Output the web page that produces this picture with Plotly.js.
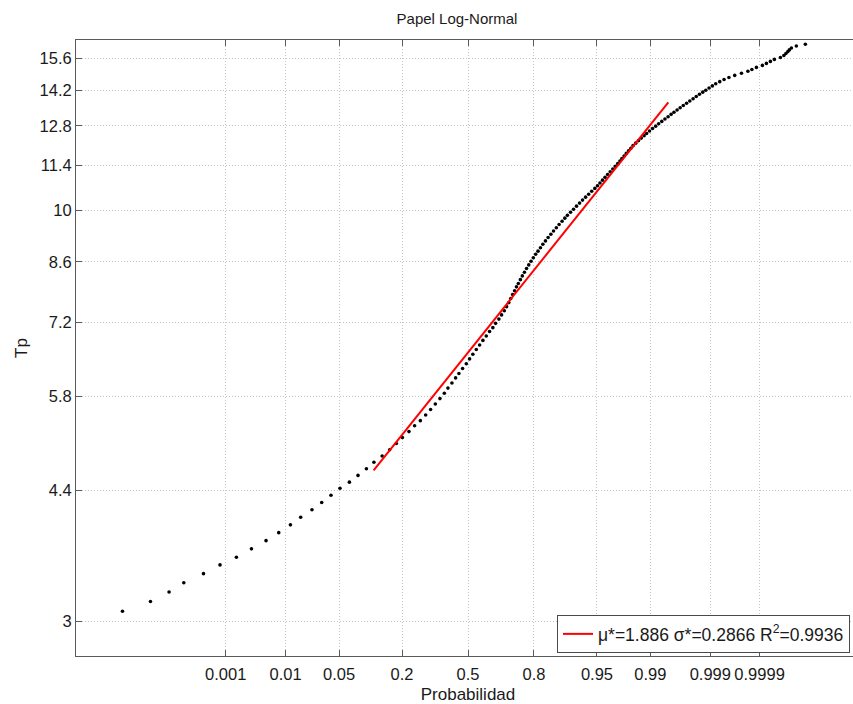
<!DOCTYPE html>
<html>
<head>
<meta charset="utf-8">
<script src="https://cdn.plot.ly/plotly-3.0.1.min.js"></script>
<style>
html,body{margin:0;padding:0;overflow:hidden;background:#fff;}
#chart{width:861px;height:704px;}
</style>
</head>
<body>
<div id="chart"></div>
<script>
// Empirical data: peak period values and their standard normal scores (probit of plotting position)
const tpValues = [3.09,3.18,3.27,3.36,3.45,3.54,3.62,3.71,3.80,3.89,3.98,4.07,4.16,4.25,4.34,4.43,4.51,4.60,4.69,4.78,
4.87,4.96,5.05,5.14,5.23,5.32,5.40,5.49,5.58,5.67,5.76,5.85,5.94,6.03,6.12,6.20,6.29,6.38,6.47,6.56,
6.65,6.74,6.83,6.92,7.01,7.09,7.18,7.27,7.36,7.45,7.54,7.63,7.72,7.81,7.90,7.99,8.07,8.16,8.25,8.34,
8.43,8.52,8.61,8.70,8.79,8.87,8.96,9.05,9.14,9.23,9.32,9.41,9.50,9.59,9.68,9.77,9.85,9.94,10.03,10.12,
10.21,10.30,10.39,10.48,10.57,10.66,10.74,10.83,10.92,11.01,11.10,11.19,11.28,11.37,11.46,11.55,11.63,11.72,11.81,11.90,
11.99,12.08,12.17,12.26,12.35,12.44,12.52,12.61,12.70,12.79,12.88,12.97,13.06,13.15,13.24,13.32,13.41,13.50,13.59,13.68,
13.77,13.86,13.95,14.04,14.13,14.21,14.30,14.39,14.48,14.57,14.66,14.75,14.84,14.93,15.02,15.10,15.19,15.28,15.37,15.46,
15.55,15.64,15.73,15.82,15.91,15.99,16.08,16.17,16.26];
const normalScore = [-4.407,-4.050,-3.813,-3.625,-3.374,-3.163,-2.954,-2.762,-2.576,-2.414,-2.265,-2.134,-1.990,-1.866,-1.748,-1.633,-1.513,-1.403,-1.296,-1.200,
-1.095,-0.999,-0.914,-0.837,-0.753,-0.681,-0.608,-0.540,-0.477,-0.417,-0.358,-0.302,-0.256,-0.205,-0.158,-0.116,-0.069,-0.022,0.020,0.062,
0.106,0.148,0.190,0.233,0.275,0.317,0.352,0.394,0.428,0.463,0.492,0.521,0.545,0.569,0.594,0.618,0.642,0.668,0.693,0.720,
0.747,0.775,0.804,0.833,0.863,0.893,0.924,0.955,0.988,1.022,1.057,1.091,1.127,1.162,1.200,1.235,1.268,1.308,1.346,1.384,
1.423,1.461,1.500,1.539,1.578,1.618,1.652,1.683,1.716,1.748,1.781,1.814,1.847,1.879,1.910,1.938,1.963,1.991,2.019,2.048,
2.077,2.105,2.139,2.175,2.210,2.246,2.278,2.315,2.354,2.394,2.432,2.472,2.512,2.552,2.591,2.627,2.667,2.706,2.746,2.788,
2.829,2.871,2.911,2.952,2.994,3.033,3.075,3.117,3.160,3.211,3.266,3.328,3.402,3.488,3.570,3.621,3.679,3.755,3.806,3.857,
3.908,3.985,4.029,4.055,4.080,4.099,4.125,4.188,4.303];

// Fitted log-normal line end points (probability, Tp)
const fitProb = [0.1143, 0.99469];
const fitTp = [4.67, 13.71];
const fitLabel = 'μ*=1.886 σ*=0.2866 R<sup>2</sup>=0.9936';

// Axis ticks
const probTicks = [0.001, 0.01, 0.05, 0.2, 0.5, 0.8, 0.95, 0.99, 0.999, 0.9999];
const probTickText = ['0.001','0.01','0.05','0.2','0.5','0.8','0.95','0.99','0.999','0.9999'];
const tpTicks = [3, 4.4, 5.8, 7.2, 8.6, 10, 11.4, 12.8, 14.2, 15.6];
const tpTickText = ['3','4.4','5.8','7.2','8.6','10','11.4','12.8','14.2','15.6'];

function norminv(p){
  const a=[-3.969683028665376e+01,2.209460984245205e+02,-2.759285104469687e+02,1.383577518672690e+02,-3.066479806614716e+01,2.506628277459239e+00];
  const b=[-5.447609879822406e+01,1.615858368580409e+02,-1.556989798598866e+02,6.680131188771972e+01,-1.328068155288572e+01];
  const c=[-7.784894002430293e-03,-3.223964580411365e-01,-2.400758277161838e+00,-2.549732539343734e+00,4.374664141464968e+00,2.938163982698783e+00];
  const d=[7.784695709041462e-03,3.224671290700398e-01,2.445134137142996e+00,3.754408661907416e+00];
  const pl=0.02425, ph=1-pl; let q,r;
  if(p<pl){q=Math.sqrt(-2*Math.log(p));return (((((c[0]*q+c[1])*q+c[2])*q+c[3])*q+c[4])*q+c[5])/((((d[0]*q+d[1])*q+d[2])*q+d[3])*q+1);}
  if(p<=ph){q=p-0.5;r=q*q;return (((((a[0]*r+a[1])*r+a[2])*r+a[3])*r+a[4])*r+a[5])*q/(((((b[0]*r+b[1])*r+b[2])*r+b[3])*r+b[4])*r+1);}
  q=Math.sqrt(-2*Math.log(1-p));return -(((((c[0]*q+c[1])*q+c[2])*q+c[3])*q+c[4])*q+c[5])/((((d[0]*q+d[1])*q+d[2])*q+d[3])*q+1);
}

const FONT = 'Arial, "Liberation Sans", Helvetica, sans-serif';
const TXT = '#1a1a1a';

const traces = [
  {
    x: normalScore, y: tpValues, type: 'scatter', mode: 'markers',
    marker: {color: '#000', size: 3.6},
    showlegend: false, hoverinfo: 'skip'
  },
  {
    x: fitProb.map(norminv), y: fitTp, type: 'scatter', mode: 'lines',
    line: {color: '#ff0000', width: 2},
    name: fitLabel, showlegend: true
  }
];

const axisCommon = {
  showline: true, linecolor: '#5a5a5a', linewidth: 1, mirror: 'ticks',
  ticks: 'inside', tickcolor: '#5a5a5a', ticklen: 6, tickwidth: 1,
  showgrid: true, gridcolor: '#c4c4c4', griddash: '1px,2px', gridwidth: 1,
  zeroline: false,
  tickfont: {family: FONT, size: 16.5, color: TXT}
};

const layout = {
  width: 861, height: 704,
  margin: {l: 76, r: 1, t: 40, b: 48},
  paper_bgcolor: '#fff', plot_bgcolor: '#fff',
  font: {family: FONT, color: TXT},
  title: {text: 'Papel Log-Normal', font: {family: FONT, size: 15, color: TXT},
          xref: 'container', x: 457/861, xanchor: 'center', yref: 'container', y: 1 - 19/704, yanchor: 'middle'},
  xaxis: Object.assign({}, axisCommon, {
    type: 'linear', range: [-5, 5],
    tickmode: 'array', tickvals: probTicks.map(norminv), ticktext: probTickText,
    ticklabelstandoff: 3,
    title: {text: 'Probabilidad', font: {family: FONT, size: 17, color: TXT}, standoff: 6}
  }),
  yaxis: Object.assign({}, axisCommon, {
    type: 'log', range: [Math.log10(2.711), Math.log10(16.46)],
    tickmode: 'array', tickvals: tpTicks, ticktext: tpTickText,
    title: {text: 'Tp', font: {family: FONT, size: 17, color: TXT}, standoff: 7}
  }),
  legend: {
    x: (850 - 76) / 784, y: (656 - 653) / 616, xanchor: 'right', yanchor: 'bottom',
    bgcolor: '#fff', bordercolor: '#4a4a4a', borderwidth: 1,
    font: {family: FONT, size: 17.5, color: TXT}
  },
  showlegend: true
};

Plotly.newPlot('chart', traces, layout, {displayModeBar: false, staticPlot: true});
</script>
</body>
</html>
